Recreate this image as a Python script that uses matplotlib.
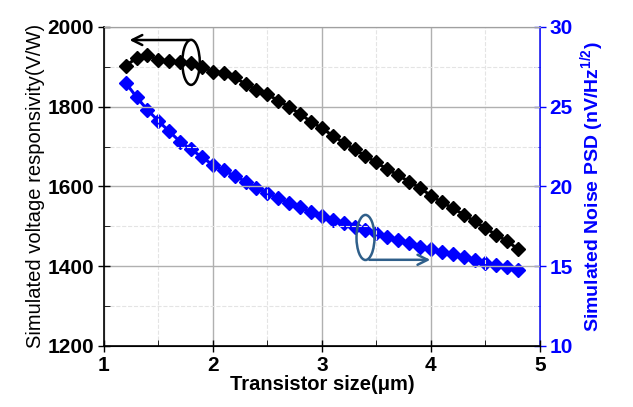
import matplotlib
matplotlib.use('Agg')
import matplotlib.pyplot as plt
from matplotlib.patches import Ellipse
from matplotlib.ticker import MultipleLocator

plt.rcParams['font.family'] = ['Liberation Sans', 'DejaVu Sans']
plt.rcParams['mathtext.fontset'] = 'custom'
plt.rcParams['mathtext.rm'] = 'Liberation Sans'
plt.rcParams['mathtext.bf'] = 'Liberation Sans:bold'

# transistor size (um)
size = [1.2, 1.3, 1.4, 1.5, 1.6, 1.7, 1.8, 1.9, 2.0, 2.1, 2.2, 2.3, 2.4,
        2.5, 2.6, 2.7, 2.8, 2.9, 3.0, 3.1, 3.2, 3.3, 3.4, 3.5, 3.6, 3.7,
        3.8, 3.9, 4.0, 4.1, 4.2, 4.3, 4.4, 4.5, 4.6, 4.7, 4.8]
# simulated voltage responsivity (V/W)
resp = [1902, 1922, 1930, 1917, 1915, 1911, 1910, 1900, 1888, 1885, 1874,
        1856, 1842, 1831, 1815, 1799, 1782, 1762, 1746, 1727, 1710, 1693,
        1676, 1660, 1643, 1628, 1612, 1596, 1577, 1560, 1546, 1529, 1513,
        1495, 1479, 1462, 1443]
# simulated noise PSD (nV/Hz^1/2)
noise = [26.5, 25.6, 24.8, 24.1, 23.45, 22.8, 22.33, 21.83, 21.35, 21.0,
         20.66, 20.3, 19.9, 19.6, 19.27, 18.98, 18.72, 18.4, 18.15, 17.9,
         17.69, 17.48, 17.27, 17.07, 16.85, 16.65, 16.44, 16.23, 16.05, 15.9,
         15.75, 15.56, 15.4, 15.23, 15.08, 14.93, 14.75]

fig = plt.figure(figsize=(6.33, 4.07), dpi=100)
ax = fig.add_axes([0.164, 0.150, 0.689, 0.784])
ax2 = ax.twinx()

ax.plot(size, resp, color='black', marker='D', markersize=7, linewidth=2.2)
ax2.plot(size, noise, color='#0000ff', marker='D', markersize=7, linewidth=2.2)

ax.set_xlim(1, 5)
ax.set_ylim(1200, 2000)
ax2.set_ylim(10, 30)

ax.xaxis.set_major_locator(MultipleLocator(1))
ax.xaxis.set_minor_locator(MultipleLocator(0.5))
ax.yaxis.set_major_locator(MultipleLocator(200))
ax.yaxis.set_minor_locator(MultipleLocator(100))
ax2.yaxis.set_major_locator(MultipleLocator(5))
ax2.yaxis.set_minor_locator(MultipleLocator(2.5))

ax.grid(True, which='major', color='#b0b0b0', linewidth=1)
ax.grid(True, which='minor', color='#e4e4e4', linewidth=0.8, linestyle='--')
ax.set_axisbelow(True)

ax.tick_params(which='major', direction='inout', length=8, width=1,
               labelsize=15, pad=3)
ax.tick_params(which='minor', direction='in', length=4)
ax.tick_params(axis='y', which='both', right=False)
ax2.tick_params(which='major', direction='inout', length=8, width=1,
                labelsize=15, colors='#0000ff', pad=3)
ax2.tick_params(which='minor', direction='in', length=4, colors='#0000ff')
for lab in ax.get_xticklabels() + ax.get_yticklabels() + ax2.get_yticklabels():
    lab.set_fontweight('bold')

ax2.spines['right'].set_color('#0000ff')
ax2.spines['right'].set_linewidth(1.2)
ax.spines['right'].set_visible(False)
ax.spines['top'].set_color('#a0a0a0')
ax2.spines['top'].set_color('#a0a0a0')
ax2.spines['left'].set_visible(False)
ax.spines['left'].set_linewidth(1.2)
ax.spines['bottom'].set_linewidth(1.2)

ax.set_xlabel('Transistor size(μm)', fontsize=14.5, fontweight='bold', labelpad=0)
ax.set_ylabel('Simulated voltage responsivity(V/W)', fontsize=14.5, labelpad=2)
ax2.set_ylabel(r'Simulated Noise PSD (nV/Hz$^{\mathbf{1/2}}$)', fontsize=14,
               fontweight='bold', color='#0000ff', labelpad=4)

# left-pointing annotation for responsivity curve
ax.add_patch(Ellipse((1.80, 1911), 0.16, 113, fill=False, edgecolor='black',
                     linewidth=1.8, zorder=5))
ax.annotate('', xy=(1.21, 1967), xytext=(1.81, 1967),
            arrowprops=dict(arrowstyle='->', color='black', lw=1.8,
                            mutation_scale=18), zorder=5)

# right-pointing annotation for noise curve
ax.add_patch(Ellipse((3.40, 1472), 0.165, 113, fill=False, edgecolor='#2f5f8a',
                     linewidth=1.8, zorder=5))
ax.annotate('', xy=(4.02, 1416), xytext=(3.41, 1416),
            arrowprops=dict(arrowstyle='->', color='#2f5f8a', lw=1.8,
                            mutation_scale=18), zorder=5)
ax.set_zorder(ax2.get_zorder() + 1)
ax.patch.set_visible(False)

fig.savefig('out.png', dpi=100)
